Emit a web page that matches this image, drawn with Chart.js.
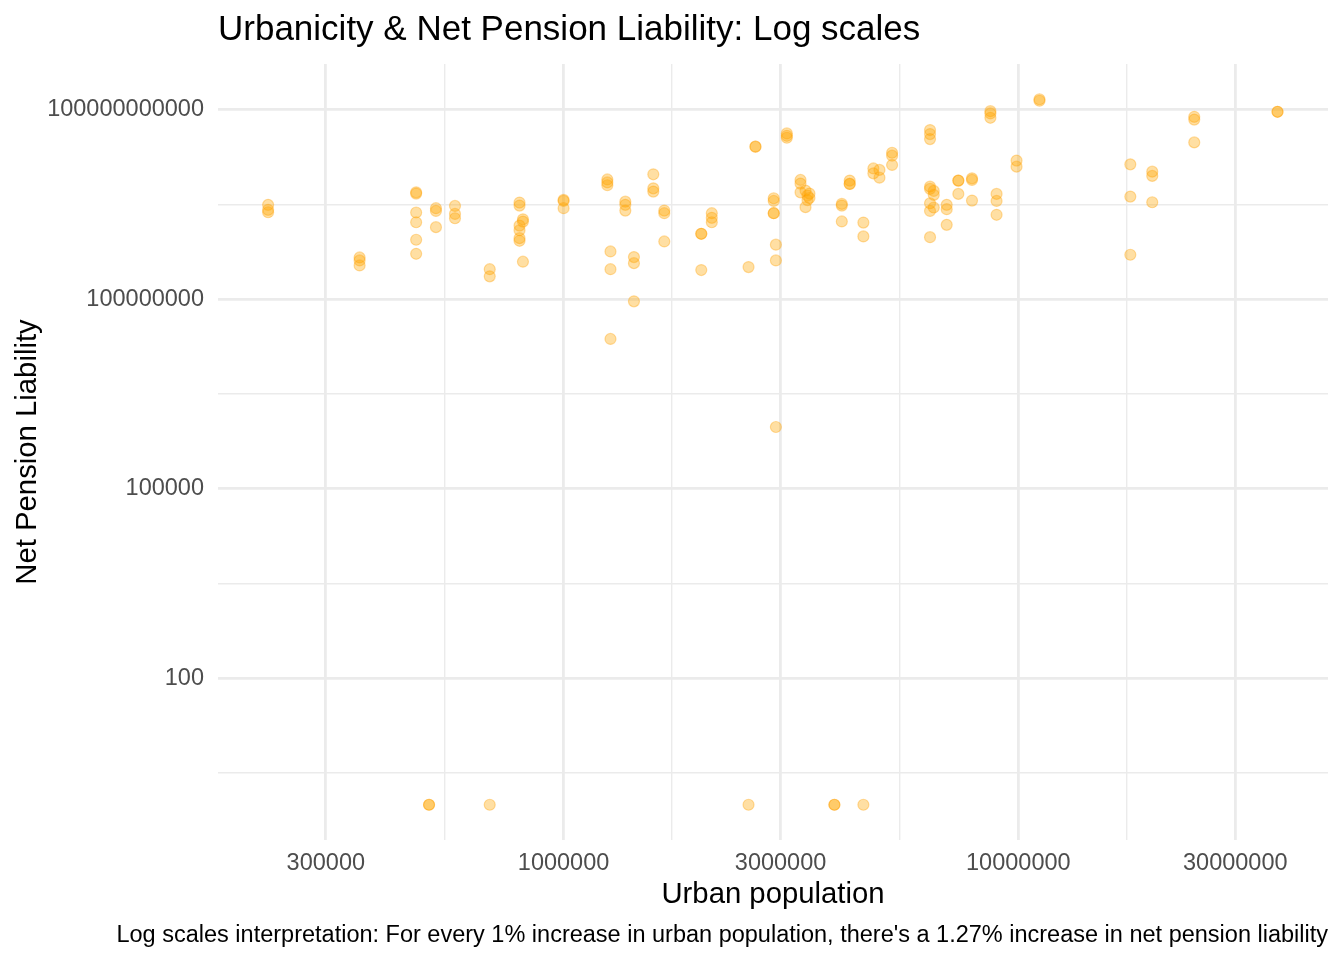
<!DOCTYPE html>
<html>
<head>
<meta charset="utf-8">
<title>Urbanicity & Net Pension Liability</title>
<script src="https://cdn.jsdelivr.net/npm/chart.js@4.4.1/dist/chart.umd.min.js"></script>
<style>
  html, body { margin: 0; padding: 0; background: #ffffff; }
  #wrap { width: 1344px; height: 960px; position: relative; }
</style>
</head>
<body>
<div id="wrap"><canvas id="grafico"></canvas></div>
<script>
// urban population (x) and net pension liability (y), one entry per state/point
const urbanPopulation = [
  224000, 224000, 224000,
  356000, 356000, 356000,
  474000, 474000, 474000, 474000, 474000, 474000,
  524000, 524000, 524000,
  577000, 577000, 577000,
  688000, 688000,
  800000, 800000, 814000, 814000, 800000, 800000, 800000, 800000, 814000,
  1000000, 1000000, 1000000,
  1248000, 1248000, 1248000, 1268000, 1268000, 1268000,
  1367000, 1367000, 1367000,
  1428000, 1428000, 1428000,
  1575000, 1575000, 1575000,
  1665000, 1665000, 1665000,
  2008000, 2008000, 2008000,
  2118000, 2118000, 2118000,
  2551000,
  2642000, 2642000,
  2898000, 2898000, 2898000, 2898000, 2930000, 2930000, 2930000,
  3097000, 3097000, 3097000,
  3319000, 3319000, 3319000, 3404000, 3404000, 3438000, 3438000, 3473000, 3473000,
  4091000, 4091000, 4091000,
  4258000, 4258000, 4258000,
  4563000, 4563000,
  4800000, 4800000, 4950000, 4950000,
  5277000, 5277000, 5277000,
  6395000, 6395000, 6395000, 6395000, 6395000, 6517000, 6517000, 6395000, 6395000, 6517000, 6395000,
  6958000, 6958000, 6958000,
  7380000, 7380000, 7380000,
  7909000, 7909000, 7909000,
  8681000, 8681000, 8681000,
  8957000, 8957000, 8957000,
  9910000, 9910000,
  11130000, 11130000,
  17630000, 17630000, 17630000,
  19700000, 19700000, 19700000,
  24370000, 24370000, 24370000,
  37150000, 37150000,
  506000, 506000, 688000, 2551000, 3940000, 3940000, 4563000
];

const netPensionLiability = [
  3.13e9, 2.61e9, 2.39e9,
  4.6e8, 4.13e8, 3.44e8,
  4.94e9, 4.72e9, 2.37e9, 1.66e9, 8.77e8, 5.26e8,
  2.77e9, 2.51e9, 1.39e9,
  3.01e9, 2.25e9, 1.92e9,
  3.0e8, 2.31e8,
  3.40e9, 3.05e9, 1.85e9, 1.70e9, 1.47e9, 1.24e9, 9.3e8, 8.45e8, 3.94e8,
  3.75e9, 3.61e9, 2.77e9,
  7.9e9, 7.1e9, 6.4e9, 5.73e8, 3.0e8, 2.36e7,
  3.52e9, 3.13e9, 2.54e9,
  4.66e8, 3.74e8, 9.3e7,
  9.53e9, 5.71e9, 5.07e9,
  2.54e9, 2.31e9, 8.24e8,
  1.09e9, 1.09e9, 2.91e8,
  2.31e9, 1.95e9, 1.66e9,
  3.24e8,
  2.61e10, 2.61e10,
  3.98e9, 3.61e9, 2.31e9, 2.31e9, 7.33e8, 4.13e8, 9.53e5,
  4.23e10, 3.88e10, 3.61e10,
  7.76e9, 6.79e9, 4.94e9, 5.26e9, 2.88e9, 4.39e9, 3.72e9, 4.72e9, 4.02e9,
  3.24e9, 3.05e9, 1.71e9,
  7.57e9, 6.71e9, 6.71e9,
  1.64e9, 9.9e8,
  1.18e10, 9.86e9, 1.12e10, 8.43e9,
  2.09e10, 1.88e10, 1.34e10,
  4.78e10, 4.13e10, 3.44e10, 6.08e9, 5.6e9, 5.2e9, 4.5e9, 3.32e9, 2.51e9, 2.84e9, 9.64e8,
  3.13e9, 2.67e9, 1.51e9,
  7.57e9, 7.57e9, 4.67e9,
  8.22e9, 7.76e9, 3.66e9,
  9.53e10, 8.75e10, 7.48e10,
  4.67e9, 3.61e9, 2.18e9,
  1.57e10, 1.26e10,
  1.47e11, 1.39e11,
  1.37e10, 4.23e9, 5.08e8,
  1.05e10, 9.0e9, 3.44e9,
  7.74e10, 7.0e10, 3.05e10,
  9.3e10, 9.3e10,
  1, 1, 1, 1, 1, 1, 1
];

const xBreaks = [300000, 1000000, 3000000, 10000000, 30000000];
const xMinorBreaks = [547723, 1732051, 5477226, 17320508];
const yBreaks = [100, 100000, 100000000, 100000000000];
const yMinorBreaks = [3.1623, 3162.28, 3162278, 3162277660];

const puntos = urbanPopulation.map((u, i) => ({ x: u, y: netPensionLiability[i] }));

const fuente = "'Liberation Sans', Arial, Helvetica, sans-serif";
const gris = '#EBEBEB';

function ponerTicks(principales, menores) {
  return scale => {
    scale.ticks = principales.concat(menores).sort((a, b) => a - b).map(v => ({ value: v }));
  };
}

new Chart(document.getElementById('grafico'), {
  type: 'scatter',
  data: {
    datasets: [{
      label: 'Net Pension Liability',
      data: puntos,
      backgroundColor: 'rgba(255,165,0,0.36)',
      borderColor: 'rgba(255,160,0,0.36)',
      borderWidth: 1.2,
      pointRadius: 5.5,
      pointHoverRadius: 5.5
    }]
  },
  options: {
    responsive: true,
    maintainAspectRatio: false,
    animation: false,
    layout: { padding: { left: 0, right: 16, top: 2, bottom: 0 } },
    plugins: {
      legend: { display: false },
      tooltip: { enabled: false },
      title: {
        display: true,
        text: 'Urbanicity & Net Pension Liability: Log scales',
        align: 'start',
        fullSize: false,
        color: '#000000',
        font: { family: fuente, size: 35, weight: 'normal', lineHeight: 1.2 },
        padding: { top: 7, bottom: 13 }
      },
      subtitle: {
        display: true,
        position: 'bottom',
        text: "Log scales interpretation: For every 1% increase in urban population, there's a 1.27% increase in net pension liability",
        align: 'end',
        fullSize: true,
        color: '#000000',
        font: { family: fuente, size: 23.5, weight: 'normal', lineHeight: 1.2 },
        padding: { top: 0, bottom: 9.9 }
      }
    },
    scales: {
      x: {
        type: 'logarithmic',
        min: 173800,
        max: 47970000,
        bounds: 'data',
        afterBuildTicks: ponerTicks(xBreaks, xMinorBreaks),
        afterFit: scale => { scale.height = 81.9; },
        border: { display: false },
        grid: {
          color: gris,
          drawTicks: false,
          lineWidth: ctx => xBreaks.includes(ctx.tick.value) ? 2.8 : 1.4
        },
        ticks: {
          autoSkip: false,
          maxRotation: 0,
          padding: 9,
          color: '#4D4D4D',
          font: { family: fuente, size: 23.5, lineHeight: 1.2 },
          callback: v => xBreaks.includes(v) ? String(v) : ''
        },
        title: {
          display: true,
          text: 'Urban population',
          color: '#000000',
          font: { family: fuente, size: 29.3, lineHeight: 1.2 },
          padding: { top: 0, bottom: 9.5 }
        }
      },
      y: {
        type: 'logarithmic',
        min: 0.2767,
        max: 5.31e11,
        bounds: 'data',
        afterBuildTicks: ponerTicks(yBreaks, yMinorBreaks),
        afterFit: scale => { scale.width = 218; },
        border: { display: false },
        grid: {
          color: gris,
          drawTicks: false,
          lineWidth: ctx => yBreaks.includes(ctx.tick.value) ? 2.8 : 1.4
        },
        ticks: {
          autoSkip: false,
          padding: 14,
          color: '#4D4D4D',
          font: { family: fuente, size: 23.5, lineHeight: 1.2 },
          callback: v => yBreaks.includes(v) ? String(v) : ''
        },
        title: {
          display: true,
          text: 'Net Pension Liability',
          color: '#000000',
          font: { family: fuente, size: 29.3, lineHeight: 1.2 },
          padding: { top: 10.6, bottom: 2 }
        }
      }
    }
  }
});
</script>
</body>
</html>
